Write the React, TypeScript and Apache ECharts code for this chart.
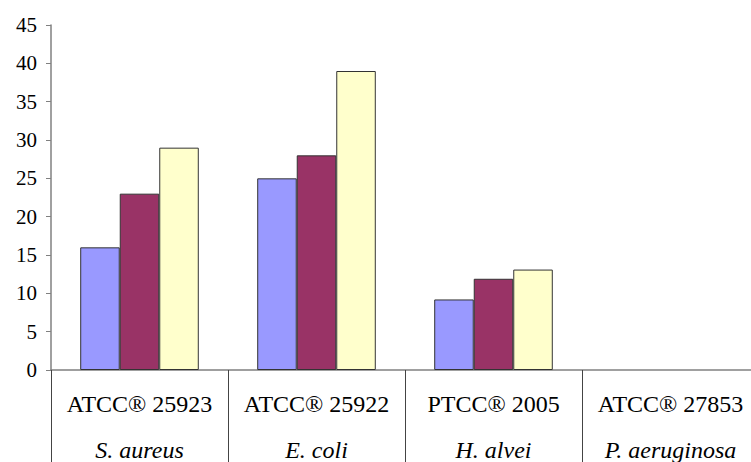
import React, { useEffect, useRef } from "react";
import * as echarts from "echarts";

const strains = ["ATCC® 25923", "ATCC® 25922", "PTCC® 2005", "ATCC® 27853"];
const species = ["S. aureus", "E. coli", "H. alvei", "P. aeruginosa"];
const series1 = [16, 25, 9.2, 0];
const series2 = [23, 28, 11.9, 0];
const series3 = [29, 39, 13.1, 0];
const yTicks = { min: 0, max: 45, interval: 5 };
const colors = ["#9999FF", "#993366", "#FFFFCC"];

export default function App() {
  const ref = useRef<HTMLDivElement>(null);
  useEffect(() => {
    if (!ref.current) return;
    const chart = echarts.init(ref.current, null, { renderer: "svg" });
    const font = "Liberation Serif, Liberation Sans, serif";
    const mk = (data: number[], i: number) => ({
      type: "bar",
      data: data.map((v) => (v === 0 ? null : v)),
      barGap: "0%",
      barCategoryGap: "33%",
      itemStyle: { color: colors[i], borderColor: "#333", borderWidth: 1 },
    });
    chart.setOption({
      animation: false,
      backgroundColor: "#fff",
      textStyle: { fontFamily: font },
      grid: { left: 51, top: 25, bottom: 92, right: 1, containLabel: false },
      xAxis: {
        type: "category",
        data: strains.map((s, i) => s + "\n" + species[i]),
        axisLine: { lineStyle: { color: "#808080", width: 1.5 } },
        axisTick: {
          show: true,
          length: 100,
          alignWithLabel: false,
          lineStyle: { color: "#444", width: 1 },
        },
        axisLabel: {
          interval: 0,
          margin: 11,
          fontFamily: font,
          formatter: (v: string) => {
            const [a, b] = v.split("\n");
            return `{a|${a}}\n{b|${b}}`;
          },
          rich: {
            a: { fontFamily: font, fontSize: 24, color: "#000", lineHeight: 46 },
            b: { fontFamily: font, fontSize: 24, fontStyle: "italic", color: "#000", lineHeight: 46 },
          },
        },
        splitLine: { show: false },
      },
      yAxis: {
        type: "value",
        min: yTicks.min,
        max: yTicks.max,
        interval: yTicks.interval,
        axisLine: { show: true, lineStyle: { color: "#808080", width: 1.5 } },
        axisTick: { show: true, length: 5, lineStyle: { color: "#808080" } },
        axisLabel: { fontFamily: font, fontSize: 21, color: "#000", margin: 14 },
        splitLine: { show: false },
      },
      series: [mk(series1, 0), mk(series2, 1), mk(series3, 2)],
    });
    return () => chart.dispose();
  }, []);
  return (
    <div
      style={{ position: "fixed", left: 0, top: 0, width: 751, height: 462, overflow: "hidden", background: "#fff" }}
    >
      <div ref={ref} style={{ width: 760, height: 462 }} />
    </div>
  );
}
